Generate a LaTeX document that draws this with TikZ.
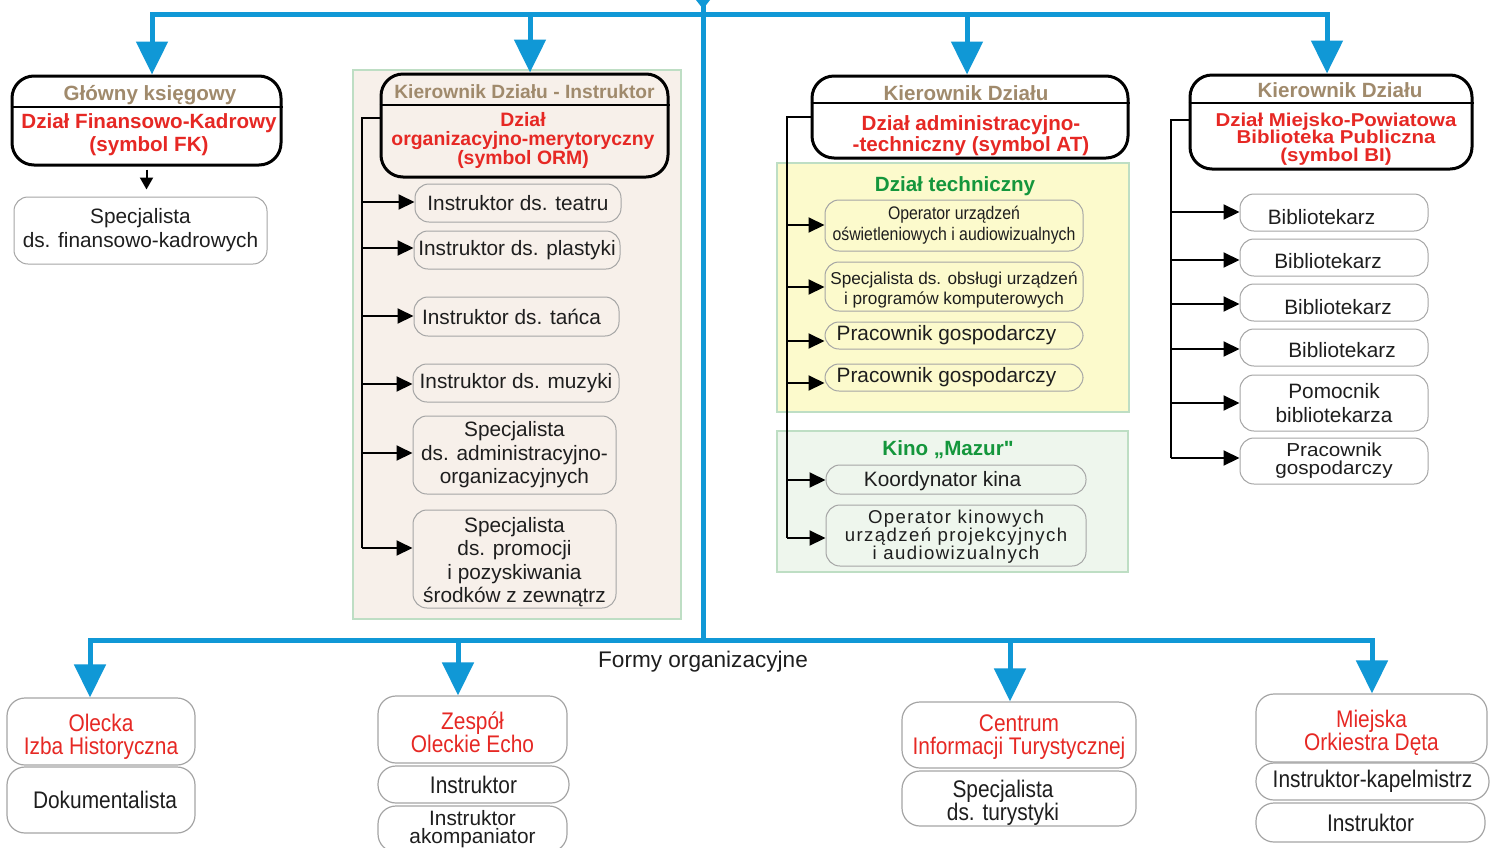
\documentclass[tikz,border=0pt]{standalone}
\usepackage{fontspec}
\setmainfont{Liberation Sans}
\newfontfamily\narrowfont[FakeStretch=0.87]{Liberation Sans}
\newfontfamily\widefont[FakeStretch=1.1]{Liberation Sans}
\newfontfamily\plainq[Ligatures=TeXOff]{Liberation Sans}
\newfontfamily\spacedfont[LetterSpace=7.5]{Liberation Sans}
\usetikzlibrary{arrows.meta}
\definecolor{cblue}{RGB}{16,152,214}
\definecolor{ctan}{RGB}{160,138,108}
\definecolor{cred}{RGB}{230,40,36}
\definecolor{cgreen}{RGB}{20,150,60}
\definecolor{cbeige}{RGB}{247,240,234}
\definecolor{cyel}{RGB}{252,250,204}
\definecolor{ckino}{RGB}{238,246,237}
\definecolor{cpanelb}{RGB}{190,222,196}
\definecolor{csub}{RGB}{165,165,165}
\definecolor{ctext}{RGB}{30,30,30}
% box by pixel corners: [text y offset], style, name, x1, y1, x2, y2, text
\newcommand\bx[8][0]{%
  \node[#2, minimum width={(#6-#4)*0.5pt}, minimum height={(#7-#5)*0.5pt}] (#3) at ({(#4+#6)/2},{(#5+#7)/2}) {};
  \node[#2, draw=none, fill=none] (#3t) at ({(#4+#6)/2},{(#5+#7)/2+#1}) {#8};}
\begin{document}
\begin{tikzpicture}[x=0.5pt,y=-0.5pt,
  hbox/.style={draw=black, line width=1.5pt, rounded corners=11pt, inner sep=0pt},
  hsep/.style={draw=black, line width=1.3pt},
  hdr/.style={text=ctan, font=\bfseries\fontsize{10.3}{12}\selectfont, inner sep=0pt},
  redb/.style={text=cred, align=center, inner sep=0pt},
  panel/.style={draw=cpanelb, line width=0.6pt, inner sep=0pt},
  subbox/.style={draw=csub, line width=0.5pt, rounded corners=7pt, inner sep=0pt, align=center, text=ctext, font=\fontsize{10.4}{11.75}\selectfont},
  botbox/.style={draw=csub, line width=0.6pt, rounded corners=9pt, inner sep=0pt, align=center, text=ctext, font=\narrowfont\fontsize{12}{11.5}\selectfont},
  botred/.style={botbox, text=cred},
  bline/.style={draw=cblue, line width=2.5pt, line cap=rect},
  bluearrow/.style={draw=cblue, line width=2.5pt, -{Triangle[length=16.5pt,width=15.5pt]}},
  kline/.style={draw=black, line width=1pt},
  karrow/.style={draw=black, line width=1pt, -{Triangle[length=8pt,width=7.5pt]}},
  gtitle/.style={text=cgreen, font=\bfseries\fontsize{10.3}{12}\selectfont, inner sep=0pt}
]
\useasboundingbox (0,0) rectangle (1498,847);
\clip (0,0) rectangle (1498,847);
\fill[white] (0,0) rectangle (1498,847);

% panels
\bx{panel, fill=cbeige}{pORM}{353}{70}{681}{619}{}
\bx{panel, fill=cyel}{pTech}{777}{163}{1129}{412}{}
\bx{panel, fill=ckino}{pKino}{777}{431}{1128}{572}{}

% blue structure
\coordinate (ttop) at (703,0);
\coordinate (bmid) at (703,640);
\coordinate (tL) at (152,14);
\coordinate (tO) at (530,14);
\coordinate (tA) at (967,14);
\coordinate (tR) at (1327,14);
\coordinate (bL) at (90,640);
\coordinate (bZ) at (458,640);
\coordinate (bC) at (1010,640);
\coordinate (bR) at (1372,640);
\fill[cblue] (696,0) -- (710,0) -- (703,9) -- cycle;
\draw[bline] (tL) -- (tR);
\draw[bline] (ttop) -- (bmid);
\draw[bline] (bL) -- (bR);

% FK
\bx{hbox, fill=white}{fk}{12}{76}{281}{165}{}
\coordinate (fksep) at (0,107);
\draw[hsep] (fk.west |- fksep) -- (fk.east |- fksep);
\node[hdr] (fkh) at (150,95) {Główny księgowy};
\node[redb, font=\bfseries\fontsize{10.3}{11.5}\selectfont] (fkr) at (149,135) {Dział Finansowo-Kadrowy\\(symbol FK)};
\bx{subbox, font=\fontsize{10.4}{12}\selectfont}{fks}{14}{197}{267}{264}{Specjalista\\ds. finansowo-kadrowych}
\draw[karrow, -{Triangle[length=6pt,width=6.5pt]}] ([yshift=-1.5pt]fk.south) -- ([yshift=3.5pt]fk.south |- fks.north);

% ORM
\bx{hbox}{orm}{381}{74}{668}{177}{}
\coordinate (ormsep) at (0,105);
\draw[hsep] (orm.west |- ormsep) -- (orm.east |- ormsep);
\node[hdr, font=\bfseries\fontsize{9.6}{11}\selectfont] (ormh) at (524.5,92) {Kierownik Działu - Instruktor};
\node[redb, font=\bfseries\fontsize{9.7}{9.5}\selectfont] (ormr) at (523,140) {Dział\\organizacyjno-merytoryczny\\(symbol ORM)};
\bx{subbox}{o1}{415}{184}{621}{222}{Instruktor ds. teatru}
\bx{subbox}{o2}{414}{231}{620}{269}{Instruktor ds. plastyki}
\bx{subbox}{o3}{414}{297}{619}{336}{\hspace*{-5pt}Instruktor ds. tańca}
\bx{subbox}{o4}{413}{364}{619}{402}{Instruktor ds. muzyki}
\bx{subbox}{o5}{413}{416}{616}{494}{Specjalista\\ds. administracyjno-\\organizacyjnych}
\bx[3]{subbox, font=\fontsize{10.4}{11.65}\selectfont}{o6}{413}{510}{616}{608}{Specjalista\\ds. promocji\\i pozyskiwania\\środków z zewnątrz}
\coordinate (ormB) at (362,118);
\coordinate (ormE) at (362,548);
\draw[kline] (orm.west |- ormB) -- (ormB) -- (ormE);
\foreach \n/\y in {o1/202,o2/248,o3/316,o4/384,o5/453,o6/548}
  \draw[karrow] (362,\y) -- (\n.west |- 0,\y);

% AT
\bx{hbox, fill=white}{at}{812}{76}{1128}{158}{}
\coordinate (atsep) at (0,103);
\draw[hsep] (at.west |- atsep) -- (at.east |- atsep);
\node[hdr] (ath) at (966,93) {Kierownik Działu};
\node[redb, font=\bfseries\fontsize{10.3}{10.5}\selectfont] (atr) at (971,136) {Dział administracyjno-\\-techniczny (symbol AT)};
\node[gtitle] (techT) at (955,186) {Dział techniczny};
\node[gtitle] (kinoT) at (948,450) {Kino „Mazur{\plainq"}};
\bx{subbox, font=\narrowfont\fontsize{9.1}{10.5}\selectfont}{t1}{825}{200}{1083}{251}{Operator urządzeń\\oświetleniowych i audiowizualnych}
\bx[3]{subbox, font=\fontsize{8.6}{10}\selectfont}{t2}{825}{262}{1083}{311}{Specjalista ds. obsługi urządzeń\\i programów komputerowych}
\bx{subbox}{t3}{825}{322}{1083}{349}{\hspace*{-7.5pt}Pracownik gospodarczy}
\bx{subbox}{t4}{825}{364}{1083}{391}{\hspace*{-7.5pt}Pracownik gospodarczy}
\bx[2]{subbox}{k1}{826}{465}{1086}{494}{\hspace*{-13.5pt}Koordynator kina}
\bx[1.5]{subbox, font=\spacedfont\fontsize{9.3}{9}\selectfont}{k2}{826}{505}{1086}{566}{Operator kinowych\\urządzeń projekcyjnych\\i audiowizualnych}
\coordinate (atB) at (787,117);
\coordinate (atE) at (787,538);
\draw[kline] (at.west |- atB) -- (atB) -- (atE);
\foreach \n/\y in {t1/225,t2/287,t3/341,t4/383,k1/480,k2/538}
  \draw[karrow] (787,\y) -- (\n.west |- 0,\y);

% BI
\bx{hbox, fill=white}{bi}{1190}{75}{1472}{169}{}
\coordinate (bisep) at (0,103);
\draw[hsep] (bi.west |- bisep) -- (bi.east |- bisep);
\node[hdr] (bih) at (1340,90) {Kierownik Działu};
\node[redb, font=\widefont\bfseries\fontsize{9.3}{8.7}\selectfont] (bir) at (1336,139) {Dział Miejsko-Powiatowa\\Biblioteka Publiczna\\(symbol BI)};
\bx[5]{subbox}{b1}{1240}{194}{1428}{231}{\hspace*{-12.5pt}Bibliotekarz}
\bx[4]{subbox}{b2}{1240}{239}{1428}{276}{\hspace*{-6pt}Bibliotekarz}
\bx[5]{subbox}{b3}{1240}{284}{1428}{321}{\hspace*{4pt}Bibliotekarz}
\bx[3]{subbox}{b4}{1240}{329}{1428}{366}{\hspace*{8pt}Bibliotekarz}
\bx{subbox, font=\fontsize{10.4}{12}\selectfont}{b5}{1240}{375}{1428}{431}{Pomocnik\\bibliotekarza}
\bx{subbox, font=\widefont\fontsize{9.4}{9}\selectfont}{b6}{1240}{438}{1428}{484}{Pracownik\\gospodarczy}
\coordinate (biB) at (1171,120);
\coordinate (biE) at (1171,458);
\draw[kline] (bi.west |- biB) -- (biB) -- (biE);
\foreach \n/\y in {b1/212,b2/260,b3/304,b4/349,b5/403,b6/458}
  \draw[karrow] (1171,\y) -- (\n.west |- 0,\y);

% top blue arrows
\draw[bluearrow] (tL) -- (tL |- fk.north);
\draw[bluearrow] (tO) -- (tO |- orm.north);
\draw[bluearrow] (tA) -- (tA |- at.north);
\draw[bluearrow] (tR) -- (tR |- bi.north);

% bottom
\node[text=ctext, font=\fontsize{11.3}{13}\selectfont, inner sep=0pt] (formy) at (703,662) {Formy organizacyjne};
\bx[5]{botred}{ol}{7}{698}{195}{765}{Olecka\\Izba Historyczna}
\bx{botbox}{dok}{7}{767}{195}{833}{\hspace*{4pt}Dokumentalista}
\bx[2.5]{botred}{ze}{378}{696}{567}{763}{Zespół\\Oleckie Echo}
\bx{botbox}{zi}{378}{766}{569}{803}{Instruktor}
\bx{botbox, font=\fontsize{10.4}{9}\selectfont}{za}{378}{806}{567}{852}{Instruktor\\akompaniator}
\bx[2]{botred}{ci}{902}{702}{1136}{768}{Centrum\\Informacji Turystycznej}
\bx[4]{botbox}{cs}{902}{771}{1136}{826}{\hspace*{-16pt}Specjalista\\\hspace*{-16pt}ds. turystyki}
\bx[5]{botred}{mo}{1256}{694}{1487}{762}{Miejska\\Orkiestra Dęta}
\bx{botbox}{mk}{1256}{763}{1489}{800}{Instruktor-kapelmistrz}
\bx{botbox}{mi}{1256}{803}{1485}{842}{Instruktor}
\draw[bluearrow] (bL) -- (bL |- ol.north);
\draw[bluearrow] (bZ) -- (bZ |- ze.north);
\draw[bluearrow] (bC) -- (bC |- ci.north);
\draw[bluearrow] (bR) -- (bR |- mo.north);
\end{tikzpicture}
\end{document}
